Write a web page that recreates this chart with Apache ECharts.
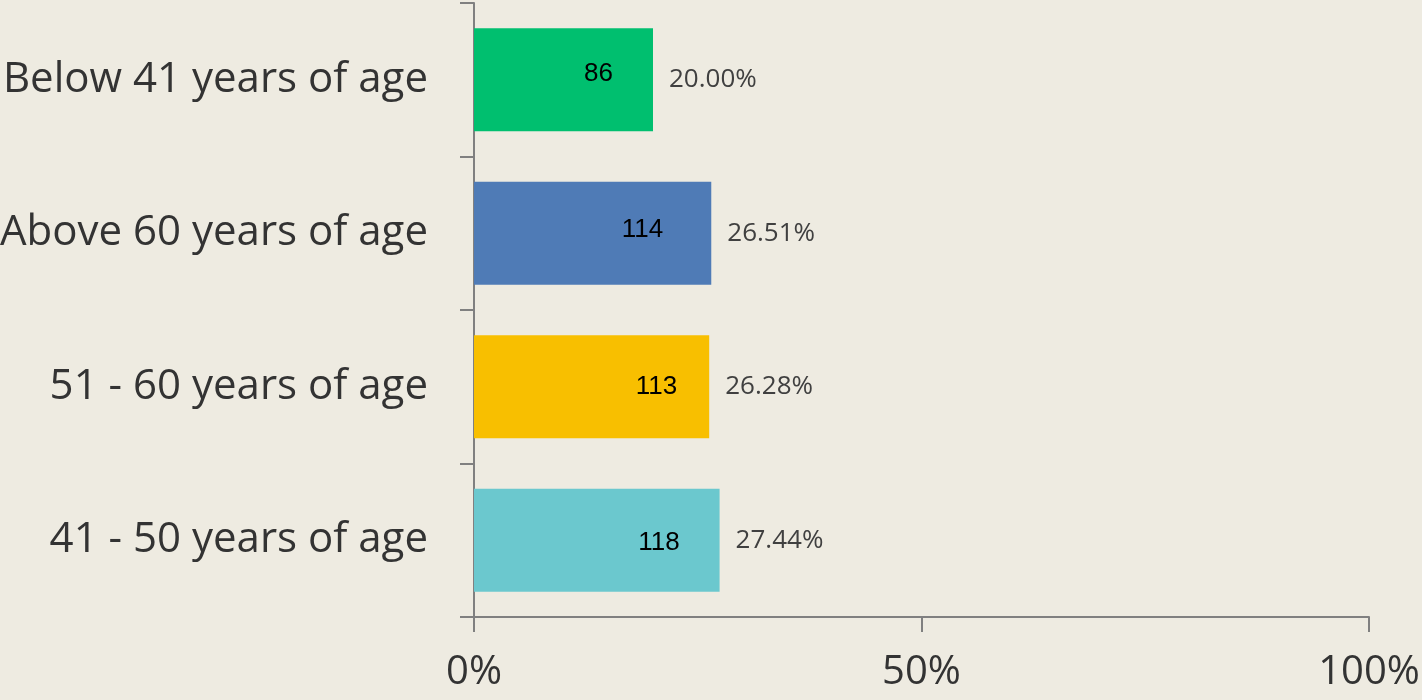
<!DOCTYPE html>
<html>
<head>
<meta charset="utf-8">
<script src="https://cdn.jsdelivr.net/npm/echarts@6/dist/echarts.min.js"></script>
<style>
    html, body { margin: 0; padding: 0; background: #eeebe1; }
    #chart { width: 1422px; height: 700px; }
</style>
</head>
<body>
<div id="chart"></div>
<script>
// bottom to top, as the category axis draws them
var categories = ["41 - 50 years of age", "51 - 60 years of age", "Above 60 years of age", "Below 41 years of age"];
var counts = [118, 113, 114, 86];
var percents = [27.44, 26.28, 26.51, 20.00];
var barColors = ["#6bc8ce", "#f8bf00", "#4f7bb6", "#00bf6f"];
var xTicks = [0, 50, 100];

// small nudges so the count labels sit where they do in the picture
var countOffsets = [[0, 3], [8, 0], [-8, -3], [0, -6]];

var chart = echarts.init(document.getElementById('chart'));

var mainData = counts.map(function(c, i) {
    return {
        value: percents[i],
        count: c,
        itemStyle: { color: barColors[i] },
        label: { offset: countOffsets[i] }
    };
});

var option = {
    backgroundColor: "#eeebe1",
    animation: false,
    grid: { left: 474, right: 53, top: 3, bottom: 83, outerBoundsMode: "none", containLabel: false },
    xAxis: {
        type: "value",
        min: xTicks[0],
        max: xTicks[xTicks.length - 1],
        interval: 50,
        axisLine: { show: true, lineStyle: { color: "#808080", width: 2 } },
        axisTick: { show: true, length: 15, lineStyle: { color: "#808080", width: 2 } },
        splitLine: { show: false },
        axisLabel: {
            formatter: "{value}%",
            fontFamily: "Open Sans",
            fontSize: 40,
            color: "#333333",
            margin: 36
        }
    },
    yAxis: {
        type: "category",
        data: categories,
        axisLine: { show: true, lineStyle: { color: "#808080", width: 2 } },
        axisTick: { show: true, length: 14, lineStyle: { color: "#808080", width: 2 } },
        axisLabel: {
            fontFamily: "Open Sans",
            fontSize: 42,
            color: "#333333",
            margin: 46
        }
    },
    series: [
        {
            type: "bar",
            data: mainData,
            barWidth: "67%",
            label: {
                show: true,
                position: "insideRight",
                distance: 40,
                fontFamily: "Liberation Sans",
                fontSize: 26,
                color: "#000000",
                formatter: function(p) { return p.data.count; }
            }
        },
        {
            type: "bar",
            data: percents,
            barWidth: "67%",
            barGap: "-100%",
            silent: true,
            itemStyle: { color: "rgba(0,0,0,0)" },
            label: {
                show: true,
                position: "right",
                distance: 16,
                fontFamily: "Open Sans",
                fontSize: 26,
                color: "#404040",
                formatter: function(p) { return p.value.toFixed(2) + "%"; }
            }
        }
    ]
};

chart.setOption(option);
</script>
</body>
</html>
